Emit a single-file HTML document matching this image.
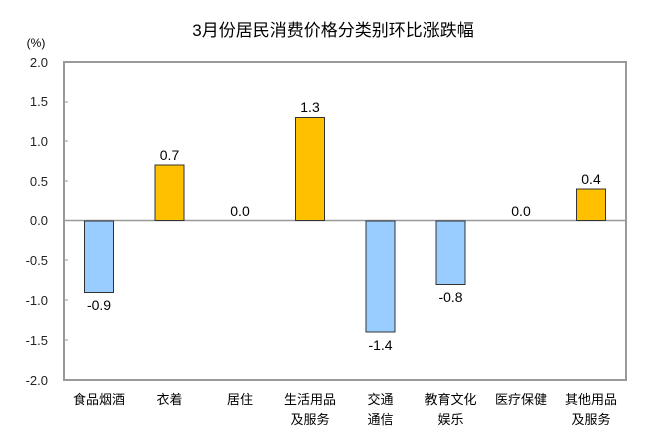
<!DOCTYPE html>
<html><head><meta charset="utf-8"><style>
body{margin:0;background:#fff;}
svg{display:block;font-family:"Liberation Sans","Noto Sans CJK SC",sans-serif;}
</style></head><body>
<svg width="658" height="445" viewBox="0 0 658 445">
<text x="333" y="36" font-size="17" text-anchor="middle" fill="#000">3月份居民消费价格分类别环比涨跌幅</text>
<text x="36" y="47" font-size="12" text-anchor="middle">(%)</text>
<g font-size="13" text-anchor="end" fill="#222">
<text x="48" y="67">2.0</text><text x="48" y="106">1.5</text><text x="48" y="146">1.0</text>
<text x="48" y="186">0.5</text><text x="48" y="225">0.0</text><text x="48" y="265">-0.5</text>
<text x="48" y="305">-1.0</text><text x="48" y="345">-1.5</text><text x="48" y="385">-2.0</text>
</g>
<rect x="64" y="62" width="562" height="318" fill="none" stroke="#999" stroke-width="2"/>
<g stroke="#999" stroke-width="1">
<line x1="64" y1="102" x2="68" y2="102"/><line x1="64" y1="141" x2="68" y2="141"/><line x1="64" y1="181" x2="68" y2="181"/>
<line x1="64" y1="260" x2="68" y2="260"/><line x1="64" y1="300" x2="68" y2="300"/><line x1="64" y1="340" x2="68" y2="340"/>
</g>
<line x1="64" y1="220.5" x2="626" y2="220.5" stroke="#999" stroke-width="1.5"/>
<g stroke="#333" stroke-width="1">
<rect x="84.5" y="221" width="29" height="71.5" fill="#99ccff"/>
<rect x="155" y="165" width="29" height="55.5" fill="#ffc000"/>
<rect x="295.5" y="117.5" width="29" height="103" fill="#ffc000"/>
<rect x="366" y="221" width="29" height="111" fill="#99ccff"/>
<rect x="436" y="221" width="29" height="63.5" fill="#99ccff"/>
<rect x="576.5" y="189" width="29" height="31.5" fill="#ffc000"/>
</g>
<g font-size="14" text-anchor="middle" fill="#000">
<text x="99" y="310">-0.9</text><text x="169.5" y="160">0.7</text><text x="240" y="216">0.0</text>
<text x="310" y="112">1.3</text><text x="380.5" y="350">-1.4</text><text x="450.5" y="302">-0.8</text>
<text x="521" y="216">0.0</text><text x="591" y="184">0.4</text>
</g>
<g font-size="13" text-anchor="middle" fill="#000">
<text x="99" y="404">食品烟酒</text><text x="169.5" y="404">衣着</text><text x="240" y="404">居住</text>
<text x="310" y="404">生活用品</text><text x="310" y="424">及服务</text>
<text x="380.5" y="404">交通</text><text x="380.5" y="424">通信</text>
<text x="450.5" y="404">教育文化</text><text x="450.5" y="424">娱乐</text>
<text x="521" y="404">医疗保健</text>
<text x="591" y="404">其他用品</text><text x="591" y="424">及服务</text>
</g>
</svg>
</body></html>
